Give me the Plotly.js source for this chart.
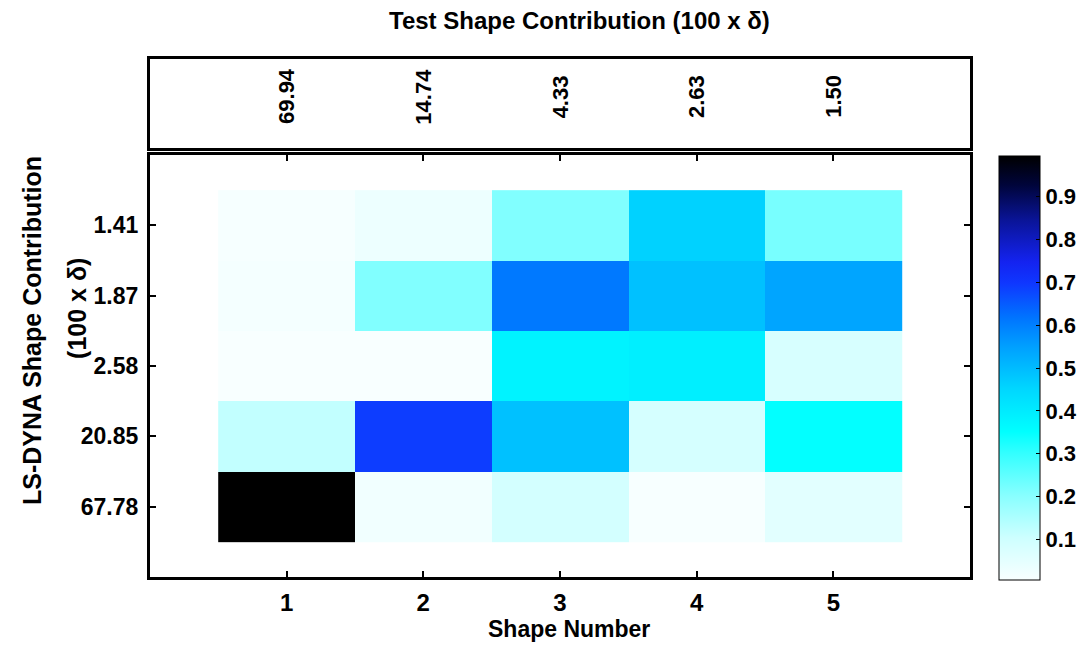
<!DOCTYPE html>
<html>
<head>
<meta charset="utf-8">
<script src="https://cdn.plot.ly/plotly-3.0.1.min.js"></script>
<style>html,body{margin:0;padding:0;background:#fff}#chart{width:1081px;height:645px}</style>
</head>
<body>
<div id="chart"></div>
<script>
// ---- data ----
const shapeNumbers = [1, 2, 3, 4, 5];
const testContribLabels = ['69.94', '14.74', '4.33', '2.63', '1.50'];
const lsdynaContribLabels = ['1.41', '1.87', '2.58', '20.85', '67.78'];
const rowIndex = [1, 2, 3, 4, 5];
const mac_141  = [0.010, 0.030, 0.210, 0.460, 0.220];
const mac_187  = [0.015, 0.210, 0.610, 0.490, 0.540];
const mac_258  = [0.006, 0.005, 0.380, 0.390, 0.080];
const mac_2085 = [0.120, 0.690, 0.490, 0.085, 0.350];
const mac_6778 = [0.995, 0.020, 0.090, 0.008, 0.055];
const colorbarTicks = [0.1, 0.2, 0.3, 0.4, 0.5, 0.6, 0.7, 0.8, 0.9];
const zMin = 0.005, zMax = 0.995;

// ---- layout helpers (pixel -> paper) ----
const W = 1081, H = 645;
const px = v => v / W;
const py = v => 1 - v / H;

const colorscale = [
  [0.00, 'rgb(248,255,255)'],
  [0.10, 'rgb(205,255,255)'],
  [0.20, 'rgb(135,255,255)'],
  [0.30, 'rgb(50,255,255)'],
  [0.35, 'rgb(0,255,255)'],
  [0.45, 'rgb(0,215,255)'],
  [0.55, 'rgb(0,160,255)'],
  [0.62, 'rgb(0,115,255)'],
  [0.70, 'rgb(15,55,255)'],
  [0.75, 'rgb(20,35,240)'],
  [0.85, 'rgb(10,20,150)'],
  [0.93, 'rgb(0,5,60)'],
  [1.00, 'rgb(0,0,0)']
];

const fam = 'Liberation Sans, Arial, Helvetica, sans-serif';

const heat = {
  type: 'heatmap',
  x: shapeNumbers,
  y: rowIndex,
  z: [mac_141, mac_187, mac_258, mac_2085, mac_6778],
  zmin: zMin, zmax: zMax,
  colorscale: colorscale,
  hoverinfo: 'skip',
  colorbar: {
    x: px(999), xanchor: 'left', xpad: 0, ypad: 0,
    y: py(368), yanchor: 'middle',
    thickness: 41, thicknessmode: 'pixels',
    len: 424, lenmode: 'pixels',
    outlinewidth: 1, outlinecolor: '#000',
    tickmode: 'array', tickvals: colorbarTicks,
    ticktext: colorbarTicks.map(v => v.toFixed(1)),
    ticks: 'inside', ticklen: 4, tickwidth: 1, tickcolor: '#000',
    ticklabelstandoff: 2,
    tickfont: {family: fam, size: 22, color: '#000', weight: 'bold'}
  }
};

const topPanel = {
  type: 'scatter', x: [], y: [], xaxis: 'x2', yaxis: 'y2',
  showlegend: false, hoverinfo: 'skip'
};

const annotations = testContribLabels.map((t, i) => ({
  text: t, x: shapeNumbers[i], y: 0.58, xref: 'x2', yref: 'y2',
  textangle: -90, showarrow: false,
  font: {family: fam, size: 22, color: '#000', weight: 'bold'}
}));

annotations.push(
  {text: 'LS-DYNA Shape Contribution', x: px(32), y: py(330), xref: 'paper', yref: 'paper',
   textangle: -90, showarrow: false, xanchor: 'center', yanchor: 'middle',
   font: {family: fam, size: 25, color: '#000', weight: 'bold'}},
  {text: '(100 x δ)', x: px(77), y: py(308), xref: 'paper', yref: 'paper',
   textangle: -90, showarrow: false, xanchor: 'center', yanchor: 'middle',
   font: {family: fam, size: 25, color: '#000', weight: 'bold'}},
  {text: 'Shape Number', x: px(570), y: py(629), xref: 'paper', yref: 'paper',
   showarrow: false, xanchor: 'center', yanchor: 'middle',
   font: {family: fam, size: 23, color: '#000', weight: 'bold'}}
);

const layout = {
  width: W, height: H,
  margin: {l: 0, r: 0, t: 0, b: 0},
  paper_bgcolor: '#fff', plot_bgcolor: '#fff',
  showlegend: false,
  title: {
    text: 'Test Shape Contribution (100 x δ)',
    x: px(580), y: py(21), xref: 'paper', yref: 'paper',
    xanchor: 'center', yanchor: 'middle',
    font: {family: fam, size: 24, color: '#000', weight: 'bold'}
  },
  xaxis: {
    domain: [px(150), px(971)], range: [0, 6],
    tickmode: 'array', tickvals: shapeNumbers, ticktext: shapeNumbers.map(String),
    ticks: 'inside', ticklen: 6, tickwidth: 2, tickcolor: '#000',
    showline: true, linewidth: 3, linecolor: '#000', mirror: 'ticks',
    showgrid: false, zeroline: false, fixedrange: true,
    ticklabelstandoff: 2,
    tickfont: {family: fam, size: 24, color: '#000', weight: 'bold'}
  },
  yaxis: {
    domain: [py(577), py(155)], range: [6, 0],
    tickmode: 'array', tickvals: rowIndex, ticktext: lsdynaContribLabels,
    ticks: 'inside', ticklen: 6, tickwidth: 2, tickcolor: '#000',
    showline: true, linewidth: 3, linecolor: '#000', mirror: 'ticks',
    showgrid: false, zeroline: false, fixedrange: true,
    ticklabelstandoff: 4,
    tickfont: {family: fam, size: 23, color: '#000', weight: 'bold'}
  },
  xaxis2: {
    domain: [px(150), px(971)], range: [0, 6], anchor: 'y2',
    showline: true, linewidth: 3, linecolor: '#000', mirror: true,
    ticks: '', showticklabels: false, showgrid: false, zeroline: false, fixedrange: true
  },
  yaxis2: {
    domain: [py(148), py(59)], range: [0, 1], anchor: 'x2',
    showline: true, linewidth: 3, linecolor: '#000', mirror: true,
    ticks: '', showticklabels: false, showgrid: false, zeroline: false, fixedrange: true
  },
  annotations: annotations
};

Plotly.newPlot('chart', [heat, topPanel], layout, {staticPlot: true, displayModeBar: false});
</script>
</body>
</html>
